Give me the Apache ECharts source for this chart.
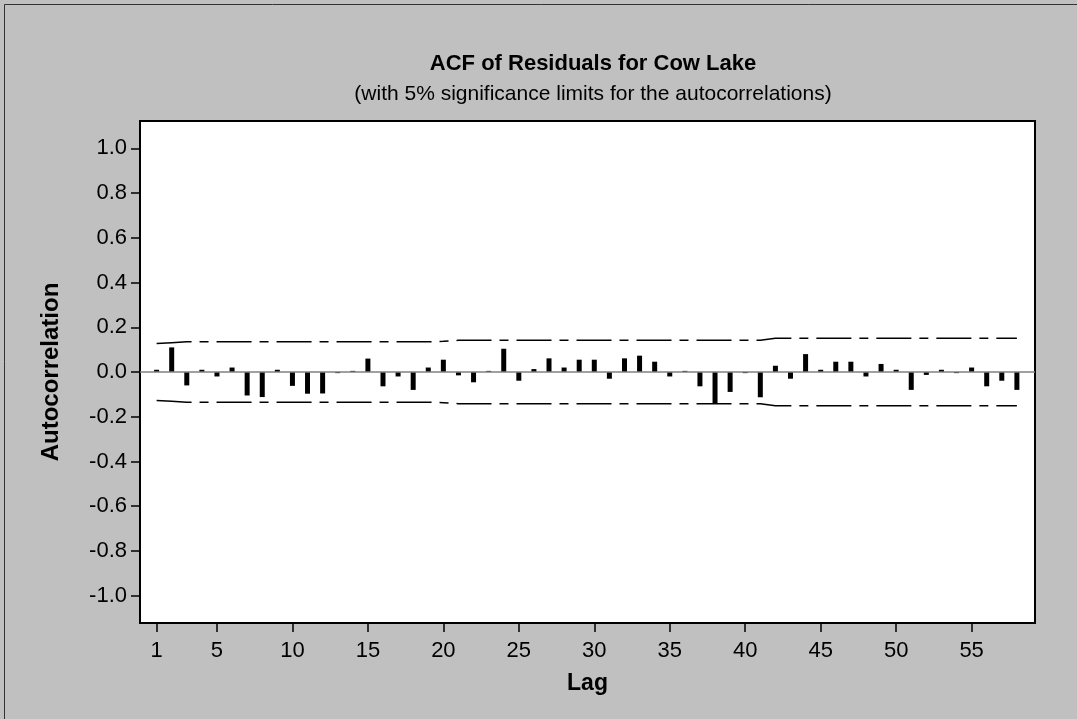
<!DOCTYPE html>
<html>
<head>
<meta charset="utf-8">
<title>ACF of Residuals for Cow Lake</title>
<script src="https://cdn.jsdelivr.net/npm/echarts@6/dist/echarts.min.js"></script>
<style>
  html, body { margin: 0; padding: 0; background: #c0c0c0; }
  #chart { width: 1077px; height: 719px; }
</style>
</head>
<body>
<div id="chart"></div>
<script>
// Lags shown on the horizontal axis
const lags = [1, 2, 3, 4, 5, 6, 7, 8, 9, 10,
  11, 12, 13, 14, 15, 16, 17, 18, 19, 20,
  21, 22, 23, 24, 25, 26, 27, 28, 29, 30,
  31, 32, 33, 34, 35, 36, 37, 38, 39, 40,
  41, 42, 43, 44, 45, 46, 47, 48, 49, 50,
  51, 52, 53, 54, 55, 56, 57, 58];

// Autocorrelation of the residuals at each lag
const acf = [0.01, 0.11, -0.06, 0.01, -0.02, 0.02, -0.105, -0.112, 0.01, -0.062,
  -0.097, -0.096, -0.005, 0.005, 0.06, -0.064, -0.02, -0.08, 0.02, 0.055,
  -0.015, -0.046, 0.005, 0.104, -0.039, 0.013, 0.061, 0.02, 0.055, 0.055,
  -0.03, 0.061, 0.073, 0.046, -0.02, 0.005, -0.064, -0.139, -0.089, -0.005,
  -0.113, 0.028, -0.03, 0.08, 0.01, 0.046, 0.046, -0.02, 0.036, 0.01,
  -0.08, -0.013, 0.01, -0.005, 0.02, -0.064, -0.039, -0.08];

// 5% significance limit (drawn as +limit and -limit)
const sigLimit = [0.127, 0.131, 0.135, 0.135, 0.135, 0.135, 0.135, 0.135, 0.135, 0.135,
  0.135, 0.135, 0.135, 0.135, 0.135, 0.135, 0.135, 0.135, 0.135, 0.137,
  0.142, 0.142, 0.142, 0.142, 0.142, 0.142, 0.142, 0.142, 0.142, 0.142,
  0.142, 0.142, 0.142, 0.142, 0.142, 0.142, 0.142, 0.142, 0.142, 0.142,
  0.142, 0.151, 0.151, 0.151, 0.151, 0.151, 0.151, 0.151, 0.151, 0.151,
  0.151, 0.151, 0.151, 0.151, 0.151, 0.151, 0.151, 0.151];

// Axis tick labels
const lagTicks = [1, 5, 10, 15, 20, 25, 30, 35, 40, 45, 50, 55];
const acfTicks = [-1.0, -0.8, -0.6, -0.4, -0.2, 0.0, 0.2, 0.4, 0.6, 0.8, 1.0];

const FONT = '"Liberation Sans", Arial, Helvetica, sans-serif';

const barData = lags.map((l, i) => [l, acf[i]]);
const upperData = lags.map((l, i) => [l, sigLimit[i]]);
const lowerData = lags.map((l, i) => [l, -sigLimit[i]]);

const chart = echarts.init(document.getElementById('chart'), null, { renderer: 'canvas' });

const limitStyle = {
  color: '#000',
  width: 1.5,
  type: [35, 8, 9, 8]
};

chart.setOption({
  backgroundColor: '#c0c0c0',
  animation: false,
  title: {
    text: 'ACF of Residuals for Cow Lake',
    subtext: '(with 5% significance limits for the autocorrelations)',
    left: 588,
    top: 48,
    textAlign: 'center',
    itemGap: 9,
    textStyle: { fontFamily: FONT, fontSize: 22, fontWeight: 'bold', color: '#000' },
    subtextStyle: { fontFamily: FONT, fontSize: 21, color: '#000' }
  },
  graphic: [
    { type: 'line', shape: { x1: 4.5, y1: 4.5, x2: 1077, y2: 4.5 }, style: { stroke: '#333', lineWidth: 1 } },
    { type: 'line', shape: { x1: 4.5, y1: 4.5, x2: 4.5, y2: 719 }, style: { stroke: '#333', lineWidth: 1 } }
  ],
  grid: {
    left: 140,
    top: 121,
    right: 42,
    bottom: 96,
    show: true,
    backgroundColor: '#fff',
    borderColor: '#000',
    borderWidth: 2
  },
  xAxis: {
    type: 'value',
    min: -0.1,
    max: 59.2,
    name: 'Lag',
    nameLocation: 'middle',
    nameGap: 49,
    nameTextStyle: { fontFamily: FONT, fontSize: 23, fontWeight: 'bold', color: '#000' },
    axisLine: { show: false, onZero: false },
    splitLine: { show: false },
    axisTick: {
      show: true,
      inside: false,
      length: 9,
      customValues: lagTicks,
      lineStyle: { color: '#000', width: 1.5 }
    },
    axisLabel: {
      customValues: lagTicks,
      margin: 17,
      fontFamily: FONT,
      fontSize: 22,
      color: '#000'
    }
  },
  yAxis: {
    type: 'value',
    min: -1.122,
    max: 1.122,
    name: 'Autocorrelation',
    nameLocation: 'middle',
    nameGap: 77,
    nameRotate: 90,
    nameTextStyle: { fontFamily: FONT, fontSize: 24, fontWeight: 'bold', color: '#000' },
    axisLine: { show: false, onZero: false },
    splitLine: { show: false },
    axisTick: {
      show: true,
      inside: false,
      length: 9,
      customValues: acfTicks,
      lineStyle: { color: '#000', width: 1.5 }
    },
    axisLabel: {
      customValues: acfTicks,
      margin: 13,
      fontFamily: FONT,
      fontSize: 22,
      color: '#000',
      formatter: v => Number(v).toFixed(1)
    }
  },
  series: [
    {
      // zero reference line
      type: 'line',
      data: [],
      z: 1,
      silent: true,
      markLine: {
        silent: true,
        symbol: 'none',
        label: { show: false },
        lineStyle: { color: '#808080', width: 1.5, type: 'solid' },
        data: [{ yAxis: 0 }]
      }
    },
    {
      name: 'Autocorrelation',
      type: 'bar',
      data: barData,
      barWidth: 5,
      z: 3,
      itemStyle: { color: '#000' }
    },
    {
      name: 'Upper limit',
      type: 'line',
      data: upperData,
      symbol: 'none',
      z: 2,
      lineStyle: limitStyle
    },
    {
      name: 'Lower limit',
      type: 'line',
      data: lowerData,
      symbol: 'none',
      z: 2,
      lineStyle: limitStyle
    }
  ]
});
</script>
</body>
</html>
